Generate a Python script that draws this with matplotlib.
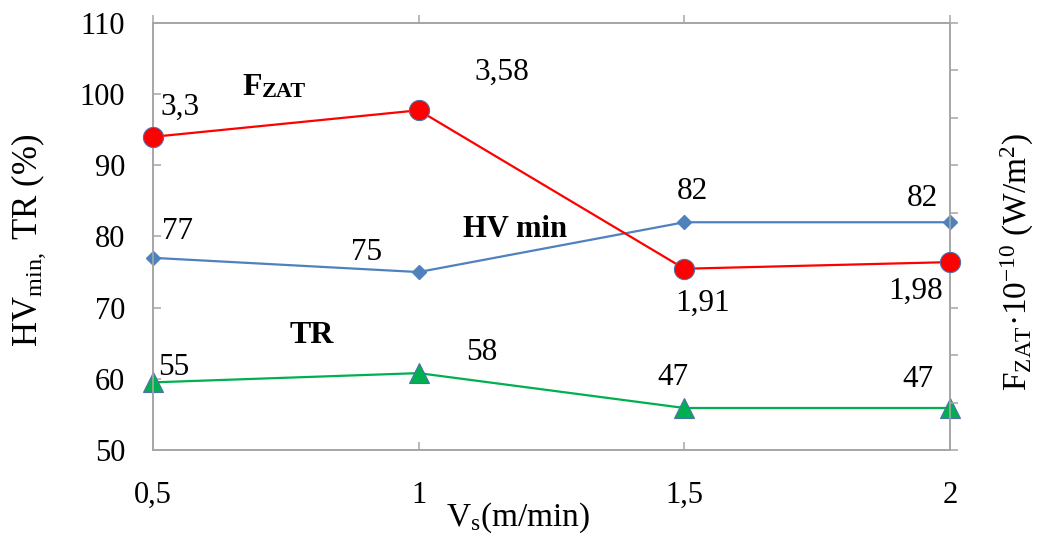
import matplotlib
matplotlib.use('Agg')
import matplotlib.pyplot as plt

plt.rcParams['font.family'] = ['Liberation Serif', 'DejaVu Serif']
plt.rcParams['mathtext.fontset'] = 'custom'
plt.rcParams['mathtext.rm'] = 'Liberation Serif'
plt.rcParams['mathtext.it'] = 'Liberation Serif:italic'
plt.rcParams['mathtext.bf'] = 'Liberation Serif:bold'

vs = [0.5, 1, 1.5, 2]
vs_labels = ['0,5', '1', '1,5', '2']

hv_min = [77, 75, 82, 82]
hv_labels = ['77', '75', '82', '82']

# TR is drawn at these heights on the left axis, labelled with its own values
tr_pos = [59.5, 60.8, 55.9, 55.9]
tr_labels = ['55', '58', '47', '47']

f_zat = [3.3, 3.58, 1.91, 1.98]
f_labels = ['3,3', '3,58', '1,91', '1,98']

spine_col = '#a6a6a6'

fig = plt.figure(figsize=(10.37, 5.38), dpi=100)
ax = fig.add_axes([0.1475, 0.1636, 0.7686, 0.7937])
ax2 = ax.twinx()

ax.set_xlim(0.5, 2)
ax.set_ylim(50, 110)
ax.set_yticks(range(50, 111, 10))
ax.set_xticks(vs)
ax.set_xticklabels(vs_labels)
ax2.set_ylim(0, 4.5)
ax2.set_yticks([i * 0.5 for i in range(10)])
ax2.set_yticklabels([])

for a in (ax, ax2):
    for s in a.spines.values():
        s.set_color(spine_col)
        s.set_linewidth(1.2)

ax.tick_params(axis='both', direction='in', length=6, width=1.1, color=spine_col,
               labelsize=22)
ax.tick_params(axis='x', pad=22)
ax.tick_params(axis='y', pad=20)
ax2.tick_params(axis='y', direction='out', length=6, width=1.1, color=spine_col)

top = ax.secondary_xaxis('top')
top.set_xticks(vs)
top.set_xticklabels([])
top.tick_params(direction='out', length=6, width=1.1, color=spine_col)
top.spines['top'].set_color(spine_col)
top.spines['top'].set_linewidth(1.2)

ax.plot(vs, hv_min, color='#4f81bd', lw=1.6, marker='D', ms=7.5,
        mfc='#4f81bd', mec='#4f81bd', clip_on=False, zorder=3)
ax.plot(vs, tr_pos, color='#00b050', lw=1.6, marker='^', ms=14,
        mfc='#00b050', mec='#4f6fa8', mew=0.8, clip_on=False, zorder=3)
ax2.plot(vs, f_zat, color='#ff0000', lw=1.6, marker='o', ms=14.5,
         mfc='#ff0000', mec='#4f6fa8', mew=0.8, clip_on=False, zorder=3)

hv_off = [(25, 26), (-52, 20), (8, 31), (-28, 24)]
tr_off = [(21, 15), (63, 21), (-11, 30), (-32, 28)]
f_off = [(27, 30), (83, 38), (18, -35), (-34, -29)]

for x, y, t, o in zip(vs, hv_min, hv_labels, hv_off):
    ax.annotate(t, (x, y), xytext=o, textcoords='offset pixels',
                ha='center', va='center', fontsize=22.5)
for x, y, t, o in zip(vs, tr_pos, tr_labels, tr_off):
    ax.annotate(t, (x, y), xytext=o, textcoords='offset pixels',
                ha='center', va='center', fontsize=22.5)
for x, y, t, o in zip(vs, f_zat, f_labels, f_off):
    ax2.annotate(t, (x, y), xytext=o, textcoords='offset pixels',
                 ha='center', va='center', fontsize=22.5)

# series names written inside the plot
tf = ax.text(0.669, 99.9, 'F', fontsize=23, fontweight='bold', va='baseline')
ax.annotate('ZAT', xy=(1, 0), xycoords=tf, fontsize=16, fontweight='bold',
            va='bottom', ha='left')
ax.text(1.083, 79.9, 'HV min', fontsize=22, fontweight='bold', va='baseline')
ax.text(0.758, 65.0, 'TR', fontsize=23, fontweight='bold', va='baseline')

ax.set_xlabel(r'V$_{\mathrm{s}}$(m/min)', fontsize=24)
ax.xaxis.set_label_coords(0.458, -0.118)
ax.set_ylabel(r'HV$_{\mathrm{min,}}$ TR (%)', fontsize=25)
ax.yaxis.set_label_coords(-0.132, 0.49)
ax2.set_ylabel(r'F$_{\mathrm{ZAT}}$·10$^{-10}$ (W/m$^{2}$)', fontsize=24)
ax2.yaxis.set_label_coords(1.062, 0.44)

fig.savefig('out.png', dpi=100)
